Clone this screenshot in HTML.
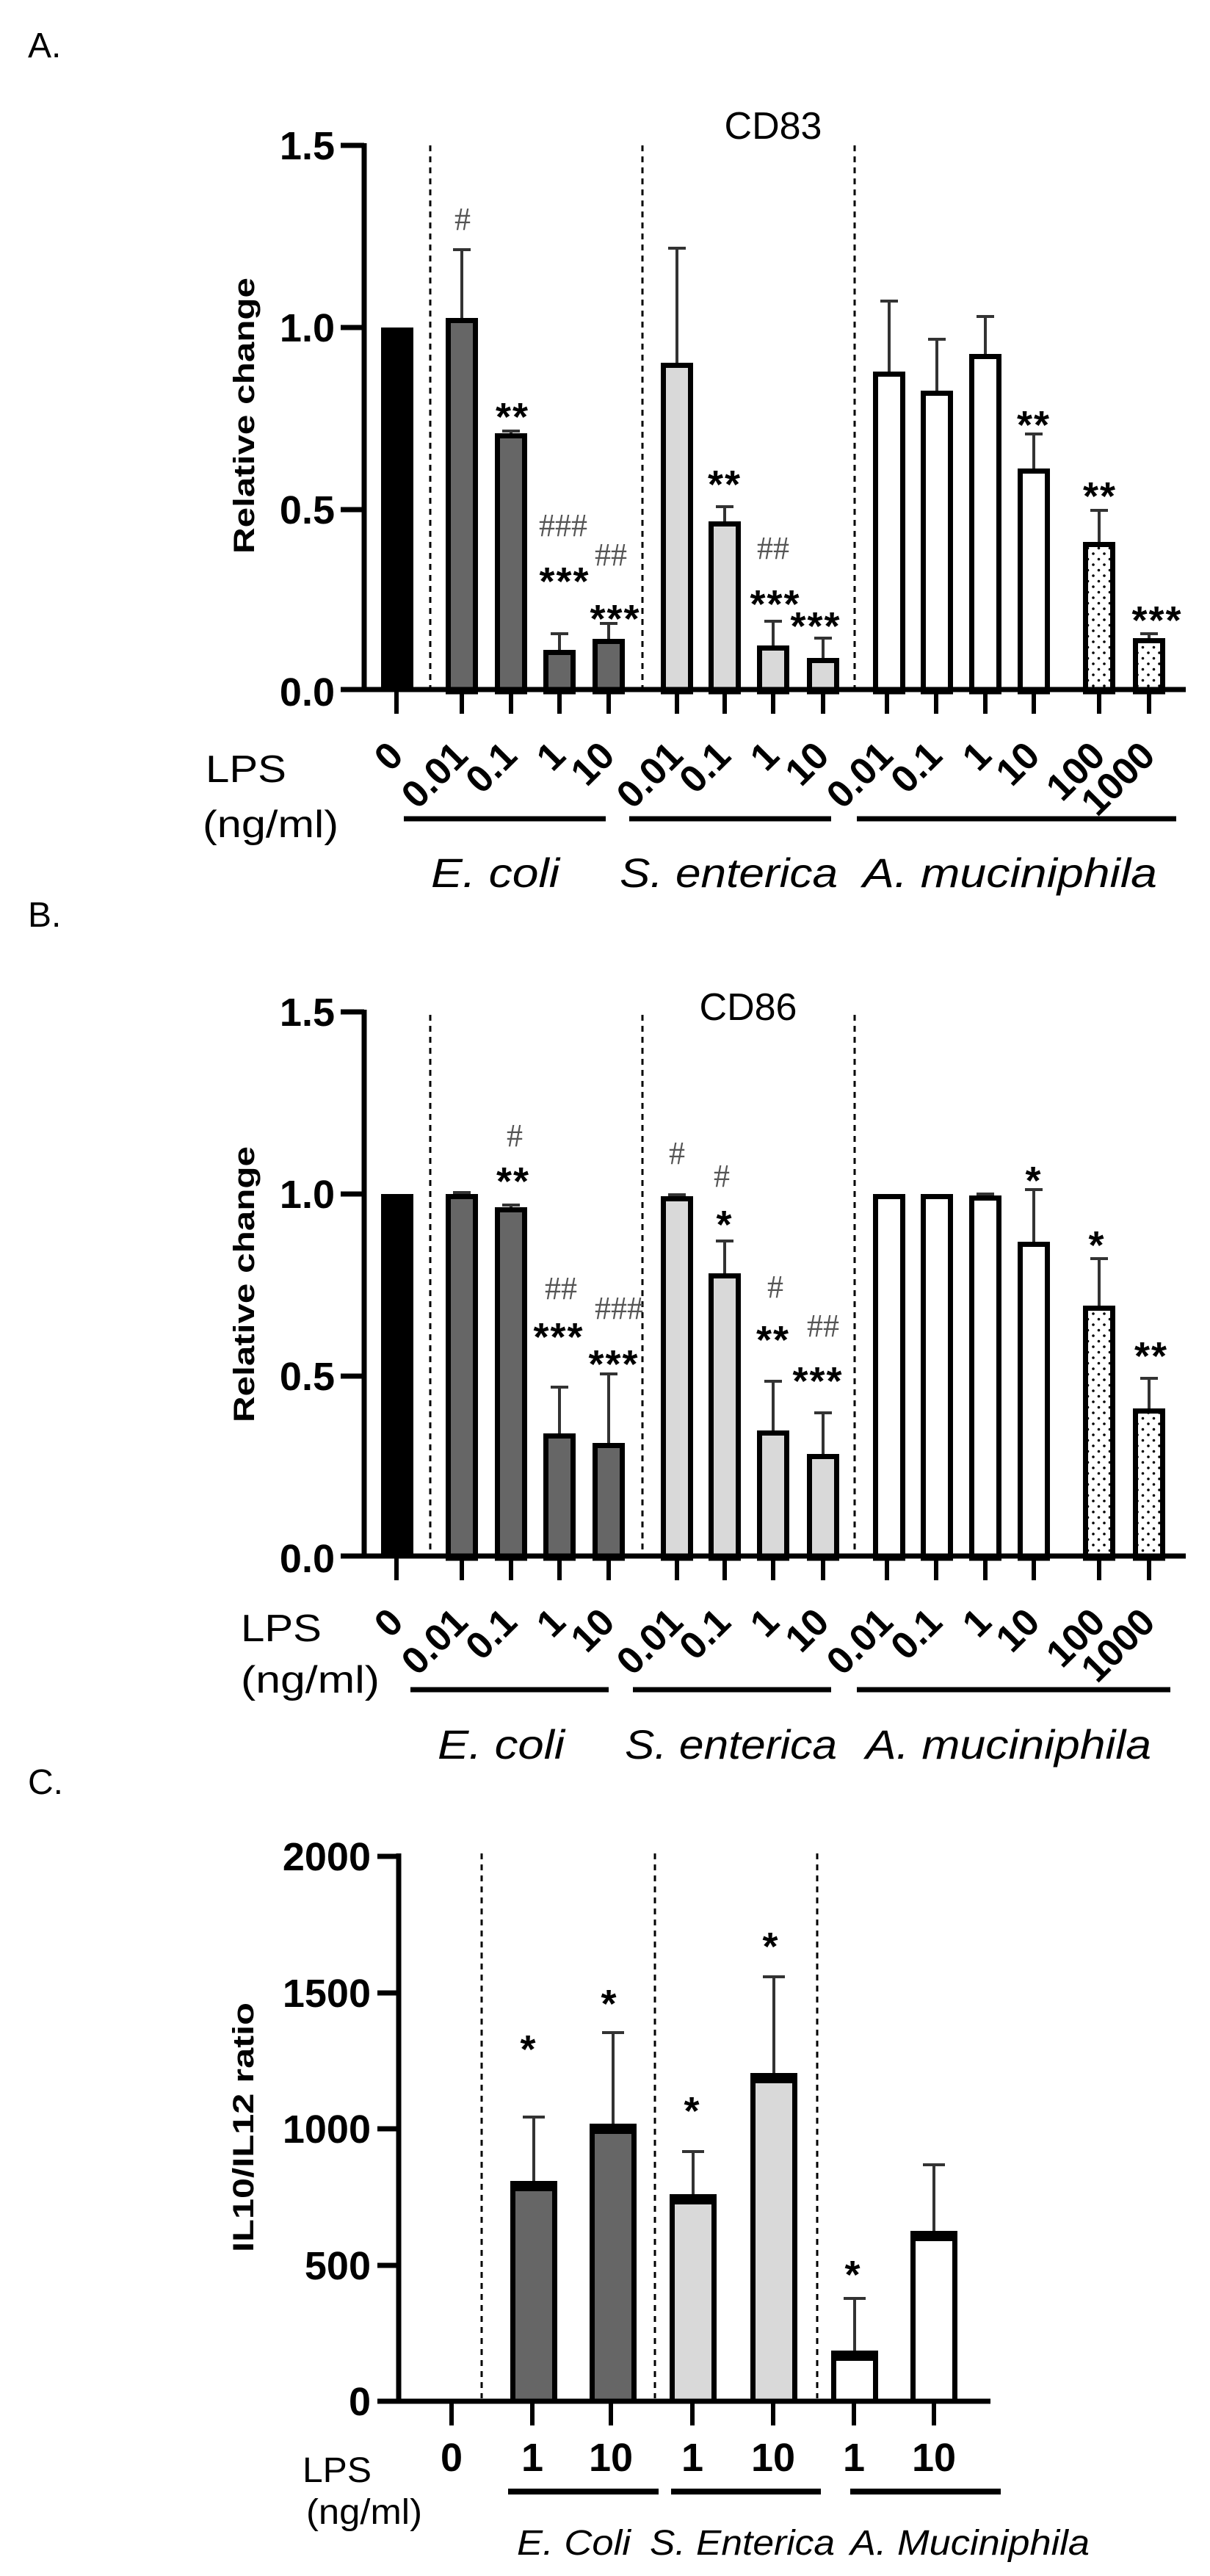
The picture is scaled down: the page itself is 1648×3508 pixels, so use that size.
<!DOCTYPE html>
<html><head><meta charset="utf-8"><style>
html,body{margin:0;padding:0;background:#fff;}
svg{display:block;}
.tk{font-family:"Liberation Sans Narrow","Liberation Sans",sans-serif;font-weight:bold;font-size:54px;}
.yl{font-family:"Liberation Sans",sans-serif;font-weight:bold;font-size:40px;}
.rl{font-family:"Liberation Sans Narrow","Liberation Sans",sans-serif;font-weight:bold;font-size:52px;}
.lb{font-family:"Liberation Sans Narrow","Liberation Sans",sans-serif;font-size:52px;}
.sp{font-family:"Liberation Sans Narrow","Liberation Sans",sans-serif;font-style:italic;font-size:56px;}
.st{font-family:"Liberation Sans",sans-serif;font-weight:bold;font-size:54px;letter-spacing:2px;}
.hs{font-family:"Liberation Serif",serif;font-size:44px;fill:#555;}
.pl{font-family:"Liberation Sans Narrow","Liberation Sans",sans-serif;font-size:48px;}
</style></head><body>
<svg width="1648" height="3508" viewBox="0 0 1648 3508" xmlns="http://www.w3.org/2000/svg">
<defs>
<pattern id="dots" width="15" height="15" patternUnits="userSpaceOnUse">
<circle cx="4" cy="4" r="1.8" fill="#000"/><circle cx="11.5" cy="11.5" r="1.8" fill="#000"/>
</pattern>
</defs>
<rect width="1648" height="3508" fill="#fff"/>

<!-- ============ PANEL A ============ -->
<text x="38" y="78" class="pl">A.</text>
<text x="1053" y="189" class="lb" text-anchor="middle">CD83</text>
<g stroke="#000" stroke-width="3" stroke-dasharray="8,7">
<line x1="586" y1="198" x2="586" y2="938"/><line x1="875" y1="198" x2="875" y2="938"/><line x1="1164" y1="198" x2="1164" y2="938"/>
</g>
<rect x="519" y="446" width="44" height="496" fill="#000"/>
<g stroke="#000" stroke-width="7">
<rect x="610.5" y="436.5" width="37" height="505.5" fill="#666"/>
<rect x="677.5" y="593.5" width="37" height="348.5" fill="#666"/>
<rect x="743.5" y="888.5" width="37" height="53.5" fill="#666"/>
<rect x="810.5" y="873.5" width="37" height="68.5" fill="#666"/>
<rect x="903.5" y="497.5" width="37" height="444.5" fill="#d9d9d9"/>
<rect x="968.5" y="713.5" width="37" height="228.5" fill="#d9d9d9"/>
<rect x="1034.5" y="882.5" width="37" height="59.5" fill="#d9d9d9"/>
<rect x="1102.5" y="899.5" width="37" height="42.5" fill="#d9d9d9"/>
<rect x="1192.5" y="509.5" width="37" height="432.5" fill="#fff"/>
<rect x="1257.5" y="535.5" width="37" height="406.5" fill="#fff"/>
<rect x="1323.5" y="485.5" width="37" height="456.5" fill="#fff"/>
<rect x="1389.5" y="641.5" width="37" height="300.5" fill="#fff"/>
<rect x="1478.5" y="741.5" width="37" height="200.5" fill="url(#dots)"/>
<rect x="1546.5" y="872.5" width="37" height="69.5" fill="url(#dots)"/>
</g>
<g stroke="#333" stroke-width="4">
<path d="M629 433V340M617 340H641"/>
<path d="M696 590V587M684 587H708"/>
<path d="M762 885V863M750 863H774"/>
<path d="M829 870V849M817 849H841"/>
<path d="M922 494V338M910 338H934"/>
<path d="M987 710V690M975 690H999"/>
<path d="M1053 879V846M1041 846H1065"/>
<path d="M1121 896V869M1109 869H1133"/>
<path d="M1211 506V410M1199 410H1223"/>
<path d="M1276 532V462M1264 462H1288"/>
<path d="M1342 482V431M1330 431H1354"/>
<path d="M1408 638V591M1396 591H1420"/>
<path d="M1497 738V695M1485 695H1509"/>
<path d="M1565 869V863M1553 863H1577"/>
</g>
<g stroke="#000" stroke-width="7">
<line x1="496" y1="195" x2="496" y2="942"/>
<line x1="464" y1="939" x2="1615" y2="939"/>
<line x1="464" y1="198" x2="496" y2="198"/>
<line x1="464" y1="446" x2="496" y2="446"/>
<line x1="464" y1="694" x2="496" y2="694"/>
</g>
<g stroke="#000" stroke-width="6">
<path d="M540 942V972M629 942V972M696 942V972M762 942V972M829 942V972M922 942V972M987 942V972M1053 942V972M1121 942V972M1208 942V972M1275 942V972M1342 942V972M1408 942V972M1497 942V972M1565 942V972"/>
</g>
<g class="tk" text-anchor="end">
<text x="456" y="217">1.5</text><text x="456" y="465">1.0</text><text x="456" y="713">0.5</text><text x="456" y="961">0.0</text>
</g>
<text class="yl" transform="translate(346,566) rotate(-90)" text-anchor="middle" textLength="376" lengthAdjust="spacingAndGlyphs">Relative change</text>
<g class="hs" text-anchor="middle">
<text x="630" y="313">#</text>
<text x="767" y="730">###</text>
<text x="832" y="770">##</text>
<text x="1053" y="761">##</text>
</g>
<g class="st" text-anchor="middle" transform="translate(0,6)">
<text x="698" y="580">**</text>
<text x="769" y="804">***</text>
<text x="838" y="855">***</text>
<text x="987" y="672">**</text>
<text x="1056" y="835">***</text>
<text x="1111" y="865">***</text>
<text x="1408" y="591">**</text>
<text x="1498" y="688">**</text>
<text x="1576" y="857">***</text>
</g>
<g class="rl" text-anchor="end">
<text transform="translate(552,1032) rotate(-45)">0</text>
<text transform="translate(640,1032) rotate(-45)">0.01</text>
<text transform="translate(707,1032) rotate(-45)">0.1</text>
<text transform="translate(773,1032) rotate(-45)">1</text>
<text transform="translate(840,1032) rotate(-45)">10</text>
<text transform="translate(933,1032) rotate(-45)">0.01</text>
<text transform="translate(998,1032) rotate(-45)">0.1</text>
<text transform="translate(1064,1032) rotate(-45)">1</text>
<text transform="translate(1132,1032) rotate(-45)">10</text>
<text transform="translate(1219,1032) rotate(-45)">0.01</text>
<text transform="translate(1286,1032) rotate(-45)">0.1</text>
<text transform="translate(1353,1032) rotate(-45)">1</text>
<text transform="translate(1419,1032) rotate(-45)">10</text>
<text transform="translate(1508,1032) rotate(-45)">100</text>
<text transform="translate(1576,1032) rotate(-45)">1000</text>
</g>
<text x="280" y="1065" class="lb" textLength="110" lengthAdjust="spacingAndGlyphs">LPS</text>
<text x="276" y="1140" class="lb" textLength="185" lengthAdjust="spacingAndGlyphs">(ng/ml)</text>
<g stroke="#000" stroke-width="7">
<line x1="550" y1="1115" x2="825" y2="1115"/><line x1="857" y1="1115" x2="1132" y2="1115"/><line x1="1167" y1="1115" x2="1602" y2="1115"/>
</g>
<text x="587" y="1208" class="sp" textLength="175" lengthAdjust="spacingAndGlyphs">E. coli</text>
<text x="844" y="1208" class="sp" textLength="297" lengthAdjust="spacingAndGlyphs">S. enterica</text>
<text x="1175" y="1208" class="sp" textLength="401" lengthAdjust="spacingAndGlyphs">A. muciniphila</text>

<!-- ============ PANEL B ============ -->
<text x="38" y="1262" class="pl">B.</text>
<text x="1019" y="1389" class="lb" text-anchor="middle">CD86</text>
<g stroke="#000" stroke-width="3" stroke-dasharray="8,7">
<line x1="586" y1="1382" x2="586" y2="2118"/><line x1="875" y1="1382" x2="875" y2="2118"/><line x1="1164" y1="1382" x2="1164" y2="2118"/>
</g>
<rect x="519" y="1626" width="44" height="496" fill="#000"/>
<g stroke="#000" stroke-width="7">
<rect x="610.5" y="1629.5" width="37" height="492.5" fill="#666"/>
<rect x="677.5" y="1647.5" width="37" height="474.5" fill="#666"/>
<rect x="743.5" y="1955.5" width="37" height="166.5" fill="#666"/>
<rect x="810.5" y="1968.5" width="37" height="153.5" fill="#666"/>
<rect x="903.5" y="1632.5" width="37" height="489.5" fill="#d9d9d9"/>
<rect x="968.5" y="1737.5" width="37" height="384.5" fill="#d9d9d9"/>
<rect x="1034.5" y="1951.5" width="37" height="170.5" fill="#d9d9d9"/>
<rect x="1102.5" y="1983.5" width="37" height="138.5" fill="#d9d9d9"/>
<rect x="1192.5" y="1629.5" width="37" height="492.5" fill="#fff"/>
<rect x="1257.5" y="1629.5" width="37" height="492.5" fill="#fff"/>
<rect x="1323.5" y="1631.5" width="37" height="490.5" fill="#fff"/>
<rect x="1389.5" y="1694.5" width="37" height="427.5" fill="#fff"/>
<rect x="1478.5" y="1781.5" width="37" height="340.5" fill="url(#dots)"/>
<rect x="1546.5" y="1921.5" width="37" height="200.5" fill="url(#dots)"/>
</g>
<g stroke="#333" stroke-width="4">
<path d="M629 1626V1624M617 1624H641"/>
<path d="M696 1644V1641M684 1641H708"/>
<path d="M762 1952V1889M750 1889H774"/>
<path d="M829 1965V1871M817 1871H841"/>
<path d="M922 1629V1627M910 1627H934"/>
<path d="M987 1734V1690M975 1690H999"/>
<path d="M1053 1948V1881M1041 1881H1065"/>
<path d="M1121 1980V1924M1109 1924H1133"/>
<path d="M1342 1628V1626M1330 1626H1354"/>
<path d="M1408 1691V1620M1396 1620H1420"/>
<path d="M1497 1778V1714M1485 1714H1509"/>
<path d="M1565 1918V1877M1553 1877H1577"/>
</g>
<g stroke="#000" stroke-width="7">
<line x1="496" y1="1375" x2="496" y2="2122"/>
<line x1="464" y1="2119" x2="1615" y2="2119"/>
<line x1="464" y1="1378" x2="496" y2="1378"/>
<line x1="464" y1="1626" x2="496" y2="1626"/>
<line x1="464" y1="1874" x2="496" y2="1874"/>
</g>
<g stroke="#000" stroke-width="6">
<path d="M540 2122V2152M629 2122V2152M696 2122V2152M762 2122V2152M829 2122V2152M922 2122V2152M987 2122V2152M1053 2122V2152M1121 2122V2152M1208 2122V2152M1275 2122V2152M1342 2122V2152M1408 2122V2152M1497 2122V2152M1565 2122V2152"/>
</g>
<g class="tk" text-anchor="end">
<text x="456" y="1397">1.5</text><text x="456" y="1645">1.0</text><text x="456" y="1893">0.5</text><text x="456" y="2141">0.0</text>
</g>
<text class="yl" transform="translate(346,1749) rotate(-90)" text-anchor="middle" textLength="376" lengthAdjust="spacingAndGlyphs">Relative change</text>
<g class="hs" text-anchor="middle">
<text x="701" y="1561">#</text>
<text x="764" y="1769">##</text>
<text x="843" y="1796">###</text>
<text x="922" y="1585">#</text>
<text x="983" y="1616">#</text>
<text x="1056" y="1767">#</text>
<text x="1121" y="1820">##</text>
</g>
<g class="st" text-anchor="middle" transform="translate(0,6)">
<text x="699" y="1621">**</text>
<text x="761" y="1833">***</text>
<text x="836" y="1870">***</text>
<text x="987" y="1680">*</text>
<text x="1053" y="1837">**</text>
<text x="1114" y="1893">***</text>
<text x="1408" y="1620">*</text>
<text x="1494" y="1708">*</text>
<text x="1568" y="1859">**</text>
</g>
<g class="rl" text-anchor="end">
<text transform="translate(552,2212) rotate(-45)">0</text>
<text transform="translate(640,2212) rotate(-45)">0.01</text>
<text transform="translate(707,2212) rotate(-45)">0.1</text>
<text transform="translate(773,2212) rotate(-45)">1</text>
<text transform="translate(840,2212) rotate(-45)">10</text>
<text transform="translate(933,2212) rotate(-45)">0.01</text>
<text transform="translate(998,2212) rotate(-45)">0.1</text>
<text transform="translate(1064,2212) rotate(-45)">1</text>
<text transform="translate(1132,2212) rotate(-45)">10</text>
<text transform="translate(1219,2212) rotate(-45)">0.01</text>
<text transform="translate(1286,2212) rotate(-45)">0.1</text>
<text transform="translate(1353,2212) rotate(-45)">1</text>
<text transform="translate(1419,2212) rotate(-45)">10</text>
<text transform="translate(1508,2212) rotate(-45)">100</text>
<text transform="translate(1576,2212) rotate(-45)">1000</text>
</g>
<text x="328" y="2235" class="lb" textLength="110" lengthAdjust="spacingAndGlyphs">LPS</text>
<text x="328" y="2305" class="lb" textLength="189" lengthAdjust="spacingAndGlyphs">(ng/ml)</text>
<g stroke="#000" stroke-width="7">
<line x1="559" y1="2301" x2="829" y2="2301"/><line x1="862" y1="2301" x2="1132" y2="2301"/><line x1="1167" y1="2301" x2="1594" y2="2301"/>
</g>
<text x="596" y="2395" class="sp" textLength="173" lengthAdjust="spacingAndGlyphs">E. coli</text>
<text x="851" y="2395" class="sp" textLength="289" lengthAdjust="spacingAndGlyphs">S. enterica</text>
<text x="1179" y="2395" class="sp" textLength="389" lengthAdjust="spacingAndGlyphs">A. muciniphila</text>

<!-- ============ PANEL C ============ -->
<text x="38" y="2443" class="pl">C.</text>
<g stroke="#000" stroke-width="3" stroke-dasharray="8,7">
<line x1="656" y1="2524" x2="656" y2="3266"/><line x1="892" y1="2524" x2="892" y2="3266"/><line x1="1113" y1="2524" x2="1113" y2="3266"/>
</g>
<g stroke="#000" stroke-width="7">
<rect x="698.5" y="2973.5" width="57" height="296.5" fill="#666"/>
<rect x="806.5" y="2895.5" width="57" height="374.5" fill="#666"/>
<rect x="915.5" y="2991.5" width="57" height="278.5" fill="#d9d9d9"/>
<rect x="1025.5" y="2826.5" width="57" height="443.5" fill="#d9d9d9"/>
<rect x="1135.5" y="3204.5" width="57" height="65.5" fill="#fff"/>
<rect x="1243.5" y="3041.5" width="57" height="228.5" fill="#fff"/>
</g>
<g fill="#000">
<rect x="695" y="2970" width="64" height="14"/>
<rect x="803" y="2892" width="64" height="14"/>
<rect x="912" y="2988" width="64" height="14"/>
<rect x="1022" y="2823" width="64" height="14"/>
<rect x="1132" y="3201" width="64" height="14"/>
<rect x="1240" y="3038" width="64" height="14"/>
</g>
<g stroke="#333" stroke-width="4">
<path d="M727 2970V2883M712 2883H742"/>
<path d="M835 2892V2768M820 2768H850"/>
<path d="M944 2988V2930M929 2930H959"/>
<path d="M1054 2823V2692M1039 2692H1069"/>
<path d="M1164 3201V3130M1149 3130H1179"/>
<path d="M1272 3038V2948M1257 2948H1287"/>
</g>
<g stroke="#000" stroke-width="7">
<line x1="543" y1="2524" x2="543" y2="3273"/>
<line x1="514" y1="3270" x2="1349" y2="3270"/>
<line x1="514" y1="2528" x2="543" y2="2528"/>
<line x1="514" y1="2714" x2="543" y2="2714"/>
<line x1="514" y1="2899" x2="543" y2="2899"/>
<line x1="514" y1="3085" x2="543" y2="3085"/>
</g>
<g stroke="#000" stroke-width="6">
<path d="M615 3273V3303M725 3273V3303M832 3273V3303M943 3273V3303M1053 3273V3303M1163 3273V3303M1272 3273V3303"/>
</g>
<g class="tk" text-anchor="end">
<text x="505" y="2547">2000</text><text x="505" y="2733">1500</text><text x="505" y="2918">1000</text><text x="505" y="3104">500</text><text x="505" y="3289">0</text>
</g>
<text class="yl" transform="translate(345,2897) rotate(-90)" text-anchor="middle" textLength="340" lengthAdjust="spacingAndGlyphs">IL10/IL12 ratio</text>
<g class="st" text-anchor="middle" transform="translate(0,6)">
<text x="720" y="2803">*</text>
<text x="830" y="2741">*</text>
<text x="943" y="2887">*</text>
<text x="1050" y="2663">*</text>
<text x="1162" y="3110">*</text>
</g>
<g class="tk" text-anchor="middle">
<text x="615" y="3365">0</text><text x="725" y="3365">1</text><text x="832" y="3365">10</text><text x="943" y="3365">1</text><text x="1053" y="3365">10</text><text x="1163" y="3365">1</text><text x="1272" y="3365">10</text>
</g>
<text x="412" y="3380" class="pl" textLength="94" lengthAdjust="spacingAndGlyphs">LPS</text>
<text x="417" y="3437" class="pl" textLength="158" lengthAdjust="spacingAndGlyphs">(ng/ml)</text>
<g stroke="#000" stroke-width="8">
<line x1="692" y1="3393" x2="897" y2="3393"/><line x1="914" y1="3393" x2="1118" y2="3393"/><line x1="1158" y1="3393" x2="1363" y2="3393"/>
</g>
<text x="704" y="3479" class="sp" style="font-size:48px" textLength="155" lengthAdjust="spacingAndGlyphs">E. Coli</text>
<text x="885" y="3479" class="sp" style="font-size:48px" textLength="252" lengthAdjust="spacingAndGlyphs">S. Enterica</text>
<text x="1158" y="3479" class="sp" style="font-size:48px" textLength="326" lengthAdjust="spacingAndGlyphs">A. Muciniphila</text>
</svg>
</body></html>
